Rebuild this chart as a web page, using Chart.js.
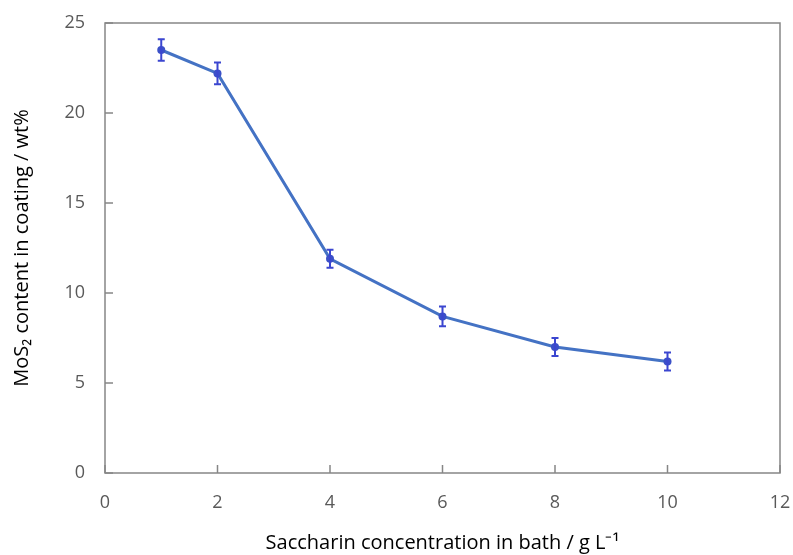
<!DOCTYPE html>
<html>
<head>
    <script src="https://cdn.jsdelivr.net/npm/chart.js@4.4.0/dist/chart.umd.min.js"></script>
    <style>
        body { margin: 0; background: #fff; }
        .w { width: 793px; height: 555px; }
    </style>
</head>
<body>
    <div class="w"><canvas id="chart"></canvas></div>
    <script>
        const concentration = [1, 2, 4, 6, 8, 10];
        const mos2Content = [23.5, 22.2, 11.9, 8.7, 7.0, 6.2];
        const errors = [0.6, 0.6, 0.5, 0.55, 0.5, 0.5];
        const xTicks = [0, 2, 4, 6, 8, 10, 12];
        const yTicks = [0, 5, 10, 15, 20, 25];

        const axisColor = '#868686';
        const textColor = '#595959';

        // frame, inner tick marks and error bars
        const extras = {
            id: 'extras',
            afterDatasetsDraw(chart) {
                const ctx = chart.ctx;
                const a = chart.chartArea;
                const xs = chart.scales.x, ys = chart.scales.y;
                ctx.save();
                ctx.strokeStyle = axisColor;
                ctx.lineWidth = 1.5;
                ctx.strokeRect(a.left, a.top, a.right - a.left, a.bottom - a.top);
                ctx.beginPath();
                xTicks.forEach(v => {
                    const px = xs.getPixelForValue(v);
                    ctx.moveTo(px, a.bottom);
                    ctx.lineTo(px, a.bottom - 8);
                });
                yTicks.forEach(v => {
                    const py = ys.getPixelForValue(v);
                    ctx.moveTo(a.left, py);
                    ctx.lineTo(a.left + 8, py);
                });
                ctx.stroke();

                ctx.strokeStyle = '#3b46d0';
                ctx.lineWidth = 2;
                ctx.beginPath();
                concentration.forEach((x, i) => {
                    const px = xs.getPixelForValue(x);
                    const hi = ys.getPixelForValue(mos2Content[i] + errors[i]);
                    const lo = ys.getPixelForValue(mos2Content[i] - errors[i]);
                    ctx.moveTo(px, hi); ctx.lineTo(px, lo);
                    ctx.moveTo(px - 3.5, hi); ctx.lineTo(px + 3.5, hi);
                    ctx.moveTo(px - 3.5, lo); ctx.lineTo(px + 3.5, lo);
                });
                ctx.stroke();
                ctx.restore();
            }
        };

        new Chart(document.getElementById('chart').getContext('2d'), {
            type: 'scatter',
            data: {
                datasets: [{
                    data: concentration.map((x, i) => ({ x: x, y: mos2Content[i] })),
                    showLine: true,
                    borderColor: '#4472c4',
                    borderWidth: 3,
                    pointRadius: 4,
                    pointBackgroundColor: '#3b50c8',
                    pointBorderWidth: 0
                }]
            },
            options: {
                responsive: true,
                maintainAspectRatio: false,
                animation: false,
                layout: { padding: { left: 0, top: 23, right: 13, bottom: 0 } },
                plugins: { legend: { display: false }, tooltip: { enabled: false } },
                scales: {
                    x: {
                        type: 'linear',
                        min: 0, max: 12,
                        afterFit: s => { s.height = 82; s.paddingRight = 0; s.paddingLeft = 0; },
                        afterBuildTicks: s => { s.ticks = xTicks.map(v => ({ value: v })); },
                        grid: { display: false },
                        border: { display: false },
                        ticks: { color: textColor, font: { family: 'Open Sans', size: 18 }, padding: 11 },
                        title: {
                            display: true,
                            text: 'Saccharin concentration in bath / g L\u207B\u00B9',
                            color: '#000',
                            font: { family: 'Open Sans', size: 20 },
                            padding: { top: 4, bottom: 0 }
                        }
                    },
                    y: {
                        min: 0, max: 25,
                        afterFit: s => { s.width = 105; },
                        afterBuildTicks: s => { s.ticks = yTicks.map(v => ({ value: v })); },
                        grid: { display: false },
                        border: { display: false },
                        ticks: { color: textColor, font: { family: 'Open Sans', size: 18 }, padding: 12 },
                        title: {
                            display: true,
                            text: 'MoS\u2082 content in coating / wt%',
                            color: '#000',
                            font: { family: 'Open Sans', size: 20 },
                            padding: { top: 10, bottom: 8 }
                        }
                    }
                }
            },
            plugins: [extras]
        });
    </script>
</body>
</html>
